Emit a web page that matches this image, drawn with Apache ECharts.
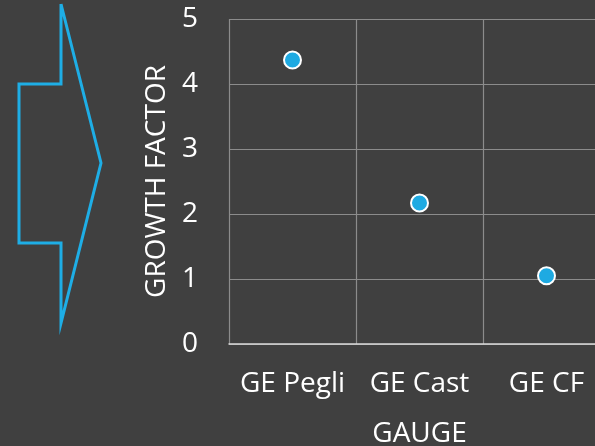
<!DOCTYPE html>
<html><head><meta charset="utf-8">
<script src="https://cdn.jsdelivr.net/npm/echarts@6/dist/echarts.min.js"></script>
<style>html,body{margin:0;padding:0;background:#404040;}#c{width:595px;height:446px;}</style>
</head><body><div id="c"></div>
<script>
const categories = ['GE Pegli', 'GE Cast', 'GE CF'];
const growthFactor = [4.37, 2.17, 1.05];
const yTicks = [0, 1, 2, 3, 4, 5];

const chart = echarts.init(document.getElementById('c'), null, {renderer: 'canvas'});
const font = '"Open Sans", "Noto Sans", sans-serif';
chart.setOption({
  backgroundColor: '#404040',
  animation: false,
  grid: {left: 229, right: -15, top: 19, bottom: 102, containLabel: false, outerBoundsMode: 'none'},
  xAxis: {
    type: 'category', data: categories,
    name: 'GAUGE', nameLocation: 'middle', nameGap: 76,
    nameTextStyle: {color: '#ffffff', fontSize: 28, fontFamily: font},
    axisLine: {show: true, lineStyle: {color: '#d9d9d9', width: 1.5}},
    axisTick: {show: false},
    axisLabel: {color: '#ffffff', fontSize: 28, fontFamily: font, margin: 26, interval: 0, hideOverlap: false},
    splitLine: {show: true, interval: 0, lineStyle: {color: '#8c8c8c', width: 1.2}}
  },
  yAxis: {
    type: 'value', min: 0, max: 5, interval: 1,
    name: 'GROWTH FACTOR', nameLocation: 'middle', nameGap: 56, nameRotate: 90,
    nameTextStyle: {color: '#ffffff', fontSize: 28, fontFamily: font},
    axisLine: {show: false}, axisTick: {show: false},
    axisLabel: {color: '#ffffff', fontSize: 28, fontFamily: font, margin: 31,
      formatter: v => yTicks.includes(v) ? String(v) : ''},
    splitLine: {show: true, lineStyle: {color: '#8c8c8c', width: 1.2}}
  },
  series: [{
    type: 'scatter', data: growthFactor, symbol: 'circle', symbolSize: 17,
    itemStyle: {color: '#1eaae2', borderColor: '#ffffff', borderWidth: 2, opacity: 1}
  }],
  graphic: [{
    type: 'polyline', silent: true,
    shape: {points: [[61,4],[101,163],[61,323],[61,243],[19,243],[19,84],[61,84],[61,4]]},
    style: {stroke: '#1eaee6', lineWidth: 3, fill: null, lineJoin: 'miter'}
  }]
});
</script></body></html>
